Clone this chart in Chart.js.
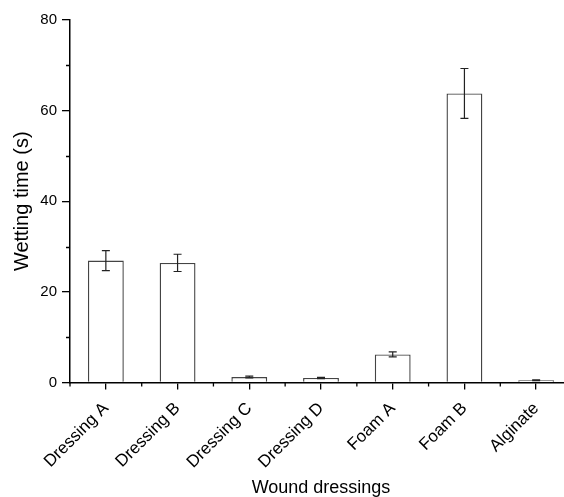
<!DOCTYPE html>
<html>
<head>
<meta charset="utf-8">
<script src="https://cdn.jsdelivr.net/npm/chart.js@4"></script>
<style>
  html, body { margin: 0; padding: 0; background: #fff; overflow: hidden; }
  #wrap { width: 600px; height: 497px; }
</style>
</head>
<body>
<div id="wrap"><canvas id="myChart" width="600" height="497"></canvas></div>
<script>
// données
const dressings = ['Dressing A', 'Dressing B', 'Dressing C', 'Dressing D', 'Foam A', 'Foam B', 'Alginate'];
const wettingTime = [26.9, 26.4, 1.2, 1.0, 6.2, 63.8, 0.5];
const wettingError = [2.2, 1.9, 0.2, 0.15, 0.55, 5.5, 0.1];
const yTicks = [0, 20, 40, 60, 80];
const yMinorTicks = [10, 30, 50, 70];

const font = 'Liberation Sans, Arial, sans-serif';

/**
 * barres d'erreur dessinées avec les échelles du graphique
 */
const errorBars = {
    id: 'errorBars',
    afterDatasetsDraw(chart) {
        const ctx = chart.ctx;
        const y = chart.scales.y;
        const meta = chart.getDatasetMeta(0);
        ctx.save();
        ctx.strokeStyle = '#222';
        ctx.lineWidth = 1.2;
        meta.data.forEach((bar, i) => {
            const top = y.getPixelForValue(wettingTime[i] + wettingError[i]);
            const bottom = y.getPixelForValue(wettingTime[i] - wettingError[i]);
            ctx.beginPath();
            ctx.moveTo(bar.x, top);
            ctx.lineTo(bar.x, bottom);
            ctx.moveTo(bar.x - 4, top);
            ctx.lineTo(bar.x + 4, top);
            ctx.moveTo(bar.x - 4, bottom);
            ctx.lineTo(bar.x + 4, bottom);
            ctx.stroke();
        });
        ctx.restore();
    }
};

/**
 * petites graduations des deux axes
 */
const minorTicks = {
    id: 'minorTicks',
    afterDraw(chart) {
        const ctx = chart.ctx;
        const x = chart.scales.x;
        const y = chart.scales.y;
        const area = chart.chartArea;
        const step = x.getPixelForValue(1) - x.getPixelForValue(0);
        ctx.save();
        ctx.strokeStyle = '#000';
        ctx.lineWidth = 1.3;
        ctx.beginPath();
        yMinorTicks.forEach(v => {
            const py = Math.round(y.getPixelForValue(v)) + 0.5;
            ctx.moveTo(area.left - 4, py);
            ctx.lineTo(area.left, py);
        });
        for (let i = 0; i <= dressings.length; i++) {
            const p = x.getPixelForValue(0) + (i - 0.5) * step;
            ctx.moveTo(p, area.bottom);
            ctx.lineTo(p, area.bottom + 4);
        }
        ctx.stroke();
        ctx.restore();
    }
};

const ctx = document.getElementById('myChart');

new Chart(ctx, {
    type: 'bar',
    data: {
        labels: dressings,
        datasets: [{
            label: 'Wetting time',
            data: wettingTime,
            backgroundColor: '#fff',
            borderColor: '#444',
            borderWidth: 1.4,
            barPercentage: 0.5,
            categoryPercentage: 1,
        }],
    },
    options: {
        responsive: false,
        animation: false,
        layout: {
            padding: { top: 20, right: 28, left: 0, bottom: 0 }
        },
        scales: {
            x: {
                offset: true,
                grid: {
                    offset: false,
                    drawOnChartArea: false,
                    color: '#000',
                    lineWidth: 1.3,
                    tickLength: 7,
                },
                border: { color: '#000', width: 1.5 },
                ticks: {
                    color: '#000',
                    font: { family: font, size: 17 },
                    maxRotation: 45,
                    minRotation: 45,
                    padding: 9,
                    autoSkip: false,
                },
                title: {
                    display: true,
                    text: 'Wound dressings',
                    color: '#000',
                    font: { family: font, size: 18 },
                    padding: { top: 4, bottom: -2 },
                },
                afterFit(scale) { scale.height = 114.5; }
            },
            y: {
                min: 0,
                max: 80,
                afterBuildTicks(scale) { scale.ticks = yTicks.map(v => ({ value: v })); },
                grid: {
                    drawOnChartArea: false,
                    color: '#000',
                    lineWidth: 1.3,
                    tickLength: 8,
                },
                border: { color: '#000', width: 1.5 },
                ticks: {
                    color: '#000',
                    font: { family: font, size: 15 },
                    padding: 5,
                },
                title: {
                    display: true,
                    text: 'Wetting time (s)',
                    color: '#000',
                    font: { family: font, size: 20 },
                    padding: { top: 10, bottom: 0 },
                },
                afterFit(scale) { scale.width = 70; }
            }
        },
        plugins: {
            legend: { display: false },
            tooltip: { enabled: false }
        }
    },
    plugins: [errorBars, minorTicks]
});
</script>
</body>
</html>
